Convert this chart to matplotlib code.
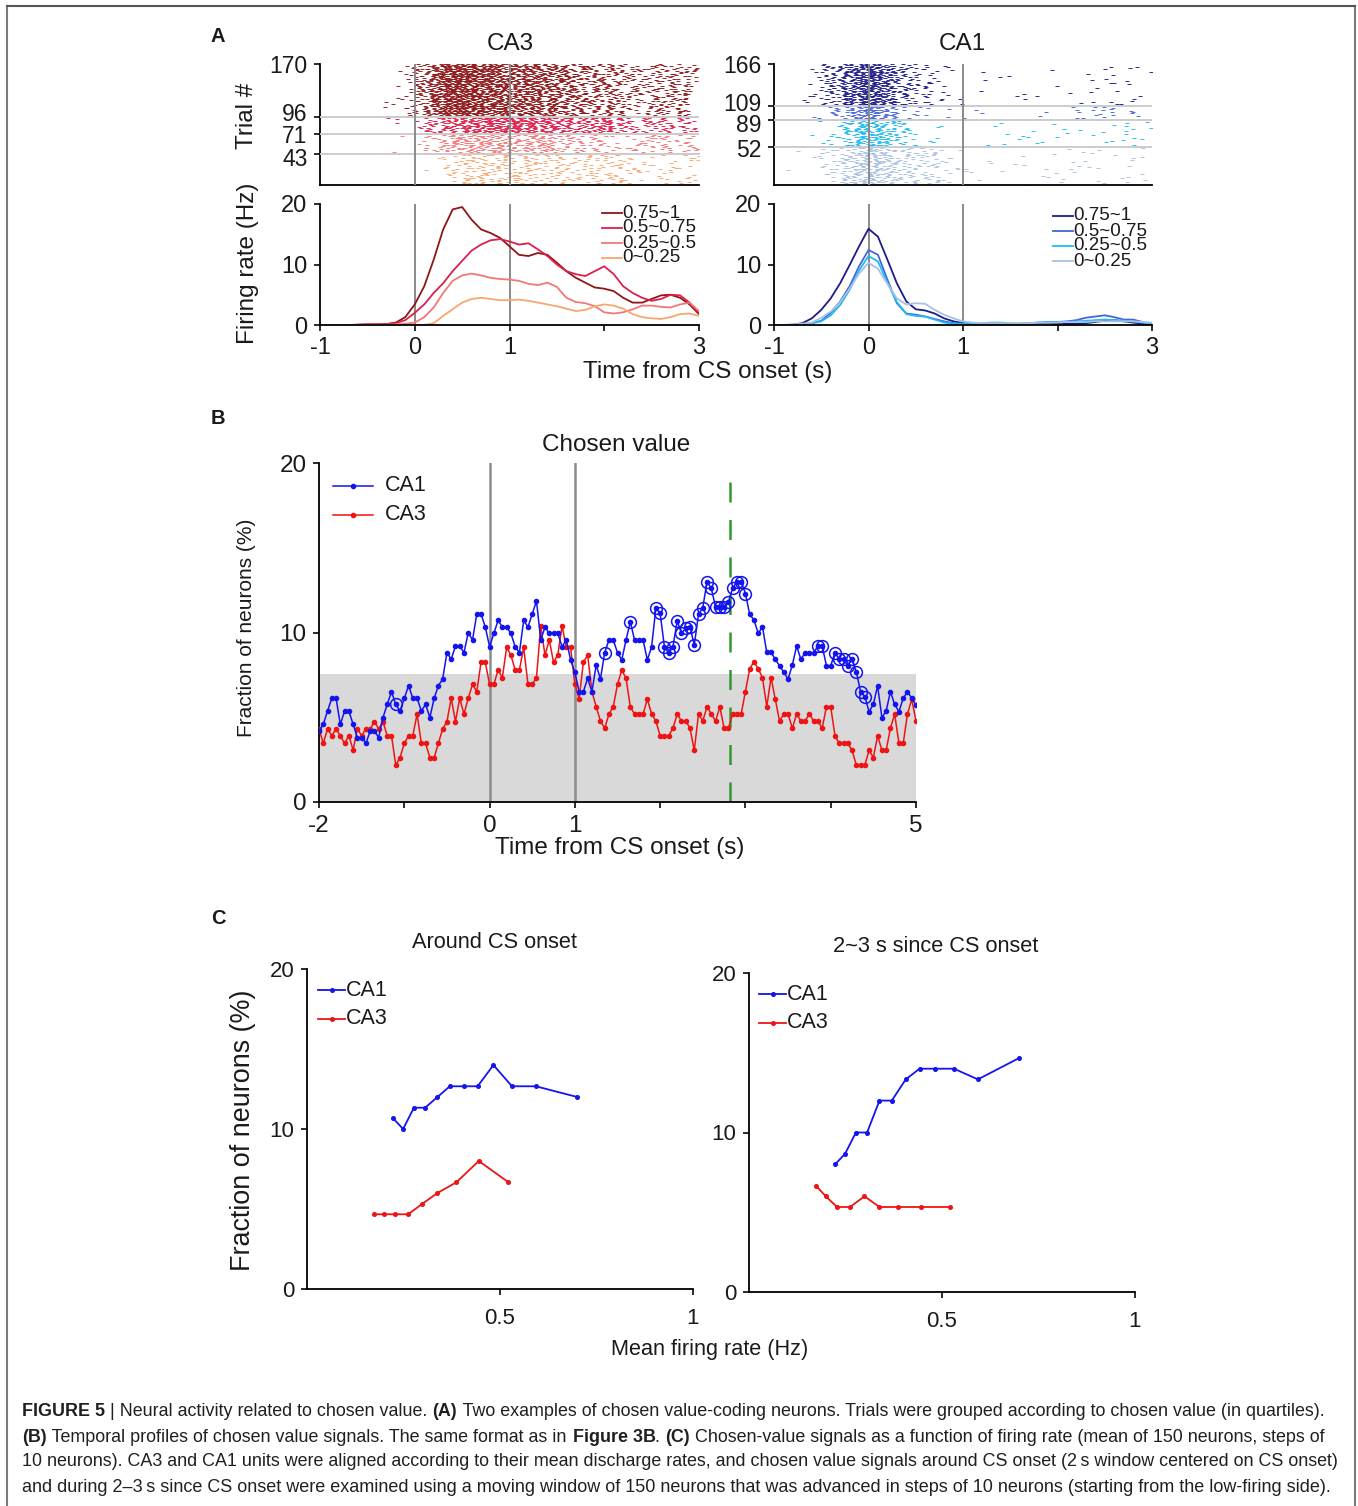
import numpy as np
import matplotlib
matplotlib.use("Agg")
import matplotlib.pyplot as plt
import matplotlib.transforms as mtrans
from matplotlib.lines import Line2D

plt.rcParams['font.family'] = ['Liberation Sans', 'DejaVu Sans']
plt.rcParams['axes.linewidth'] = 1.3
CAP_FONT = ['Liberation Sans', 'DejaVu Sans']

# ---------------------------------------------------------------- data
# Panel A : firing rates (Hz) on a 0.1 s grid from -1 to 3 s
rate_time = np.round(np.arange(-1.0, 3.0001, 0.1), 1)
quartile_labels = ["0.75~1", "0.5~0.75", "0.25~0.5", "0~0.25"]

ca3_rate_q4 = [0, 0, 0, 0, 0.05, 0.1, 0.1, 0.15, 0.4, 1.3, 3.4, 6.4, 10.8, 15.8, 19.1, 19.5,
               17.4, 15.8, 15.2, 14.4, 13.0, 11.6, 11.4, 11.9, 11.6, 10.3, 8.9, 7.8, 7.0, 6.2,
               6.0, 5.6, 4.5, 3.7, 3.7, 4.3, 4.9, 5.0, 4.5, 3.4, 1.8]
ca3_rate_q3 = [0, 0, 0, 0, 0.05, 0.1, 0.1, 0.15, 0.3, 0.8, 2.0, 3.4, 5.3, 6.9, 8.9, 10.6,
               12.3, 13.3, 14.0, 14.2, 13.8, 13.3, 13.5, 12.5, 11.4, 10.0, 8.9, 8.4, 8.1, 8.9,
               9.7, 8.4, 6.4, 5.3, 4.5, 4.0, 4.3, 5.0, 4.9, 3.7, 2.0]
ca3_rate_q2 = [0, 0, 0, 0, 0, 0, 0.05, 0.05, 0.1, 0.2, 0.4, 1.3, 2.9, 5.3, 7.3, 8.2,
               8.5, 8.2, 7.8, 7.6, 7.5, 7.3, 6.8, 6.6, 7.0, 6.3, 4.5, 3.8, 3.6, 3.1,
               2.1, 1.9, 2.1, 2.6, 3.2, 3.2, 3.0, 2.9, 3.4, 3.7, 2.3]
ca3_rate_q1 = [0, 0, 0, 0, 0, 0, 0, 0, 0, 0, 0, 0, 0.3, 1.5, 2.6, 3.7,
               4.3, 4.5, 4.3, 4.1, 4.1, 4.2, 4.0, 3.7, 3.4, 3.1, 2.7, 2.3, 2.5, 3.1,
               3.4, 3.2, 2.7, 1.8, 1.3, 1.1, 1.0, 1.3, 1.8, 1.9, 1.5]

ca1_rate_q4 = [0, 0, 0.05, 0.3, 1.1, 2.5, 4.4, 6.9, 9.9, 13.0, 15.9, 14.6, 10.8, 6.9, 3.9, 2.6,
               2.4, 1.9, 1.1, 0.6, 0.3, 0.2, 0.1, 0.1, 0.2, 0.1, 0.2, 0.2, 0.3, 0.3,
               0.2, 0.2, 0.2, 0.3, 0.5, 0.7, 0.8, 0.6, 0.4, 0.2, 0.0]
ca1_rate_q3 = [0, 0, 0, 0.1, 0.3, 0.7, 2.0, 3.9, 6.4, 9.7, 12.4, 11.6, 7.5, 3.6, 1.9, 1.7,
               1.4, 1.0, 0.6, 0.3, 0.2, 0.2, 0.2, 0.3, 0.3, 0.2, 0.2, 0.3, 0.4, 0.5,
               0.5, 0.6, 0.8, 1.2, 1.4, 1.6, 1.3, 0.9, 0.9, 0.5, 0.1]
ca1_rate_q2 = [0, 0, 0, 0.1, 0.3, 0.6, 1.6, 3.3, 5.8, 9.0, 11.4, 10.5, 7.0, 3.8, 1.8, 1.5,
               1.4, 0.9, 0.4, 0.2, 0.2, 0.2, 0.3, 0.4, 0.4, 0.3, 0.2, 0.3, 0.4, 0.4,
               0.5, 0.5, 0.6, 0.7, 0.8, 0.9, 0.8, 0.7, 0.6, 0.4, 0.2]
ca1_rate_q1 = [0, 0, 0.1, 0.2, 0.4, 1.2, 2.2, 3.8, 6.0, 8.5, 10.3, 9.3, 6.8, 4.4, 3.4, 3.6,
               3.5, 2.5, 1.7, 1.1, 0.6, 0.4, 0.3, 0.3, 0.3, 0.3, 0.3, 0.3, 0.4, 0.4,
               0.4, 0.5, 0.5, 0.5, 0.6, 0.6, 0.6, 0.6, 0.6, 0.5, 0.4]

ca3_trial_bounds = [0, 43, 71, 96, 170]     # trial-group boundaries (low -> high value)
ca1_trial_bounds = [0, 52, 89, 109, 166]
ca3_trial_ticks = [43, 71, 96, 170]
ca1_trial_ticks = [52, 89, 109, 166]

# Panel B : fraction of chosen-value neurons (%), 0.05 s steps from -2 to 5 s
b_time = np.round(np.arange(-2.0, 5.0001, 0.05), 2)
b_ca1 = [4.19, 4.58, 5.37, 6.12, 6.12, 4.58, 5.37, 5.37, 4.58, 3.80, 3.80, 3.46, 4.19, 4.19, 3.80,
         4.98, 5.76, 6.51, 5.76, 5.37, 6.12, 6.86, 6.12, 6.12, 5.37, 5.76, 4.98, 6.12, 6.86, 7.26,
         8.81, 8.42, 9.20, 9.20, 8.81, 9.99,
         9.56, 11.09, 11.09, 10.32, 9.16, 9.95, 10.72, 10.32, 10.32, 9.95, 9.16, 8.81, 10.72, 10.32,
         11.09, 11.86, 9.56, 10.32, 9.95, 9.95, 9.95, 9.16, 9.56, 8.38, 7.65, 6.51, 6.51, 7.30,
         6.51, 8.08, 7.26, 8.81, 9.56, 9.56, 8.81, 8.38,
         9.56, 10.64, 9.56, 9.56, 9.56, 8.38, 9.16, 11.43, 11.13, 9.16, 8.77, 9.16, 10.68, 9.95,
         10.25, 10.34, 9.26, 11.07, 11.47, 13.0, 12.6, 11.5, 11.5, 11.5, 11.8, 12.6, 13.0, 13.0,
         12.3, 11.07, 10.74, 9.95, 10.34, 8.83, 8.83, 8.42,
         8.04, 7.65, 7.26, 8.08, 9.20, 8.42, 8.81, 8.81, 8.81, 9.20, 9.20, 8.04, 8.04, 8.81,
         8.42, 8.42, 8.04, 8.42, 7.69, 6.51, 6.22, 5.33, 5.76, 6.86, 4.98, 5.37, 6.51, 5.76,
         5.33, 6.12, 6.51, 6.12, 5.72]
b_ca3 = [4.31, 3.46, 4.31, 3.91, 4.31, 3.91, 3.46, 3.91, 3.07, 4.31, 3.91, 4.31, 4.31, 4.74, 4.31,
         4.74, 3.91, 3.91, 2.18, 2.62, 3.46, 3.91, 3.91, 5.19, 3.46, 3.46, 2.62, 2.62, 3.46, 4.31,
         4.74, 6.12, 4.74, 6.12, 5.19, 6.12,
         6.94, 6.51, 8.24, 8.24, 6.94, 6.94, 7.79, 7.34, 9.13, 8.67, 7.79, 7.79, 9.13, 6.94,
         6.94, 7.34, 10.38, 8.67, 9.56, 8.24, 8.67, 10.38, 9.13, 9.13, 6.94, 6.10, 8.24, 8.67,
         6.51, 5.62, 4.78, 4.35, 5.19, 5.62, 6.94, 7.79,
         7.30, 5.62, 5.19, 5.19, 5.19, 6.06, 5.19, 4.78, 3.91, 3.91, 3.91, 4.35, 5.19, 4.78,
         4.78, 4.35, 3.05, 5.19, 4.78, 5.62, 5.19, 4.78, 5.62, 4.35, 4.35, 5.19, 5.19, 5.19,
         6.51, 7.85, 8.28, 7.85, 7.34, 5.62, 7.34, 6.06,
         4.78, 5.19, 5.19, 4.35, 5.19, 4.78, 4.78, 5.19, 4.78, 4.78, 4.35, 5.62, 5.62, 3.91,
         3.46, 3.46, 3.46, 3.05, 2.18, 2.18, 2.18, 3.05, 2.62, 3.91, 3.05, 3.05, 4.35, 5.19,
         3.46, 3.46, 5.19, 6.06, 4.78]
b_ca1_significant = [18, 67, 73, 79, 80, 81, 82, 83, 84, 85, 86, 87, 88, 89, 90, 91, 92, 93,
                     94, 95, 96, 97, 98, 99, 100, 117, 118, 121, 122, 123, 124, 125, 126, 127, 128]
b_chance_level = 7.55
b_marker_time = 2.82

# Panel C : fraction of neurons (%) vs mean firing rate (Hz) of 150-neuron windows
c_rate_ca1 = [0.223, 0.249, 0.277, 0.306, 0.338, 0.370, 0.406, 0.442, 0.483, 0.531, 0.593, 0.700]
c_onset_ca1 = [10.67, 10.0, 11.33, 11.33, 12.0, 12.67, 12.67, 12.67, 14.0, 12.67, 12.67, 12.0]
c_late_ca1 = [8.0, 8.67, 10.0, 10.0, 12.0, 12.0, 13.33, 14.0, 14.0, 14.0, 13.33, 14.67]
c_rate_ca3 = [0.173, 0.199, 0.228, 0.262, 0.299, 0.338, 0.387, 0.445, 0.522]
c_onset_ca3 = [4.67, 4.67, 4.67, 4.67, 5.33, 6.0, 6.67, 8.0, 6.67]
c_late_ca3 = [6.67, 6.0, 5.33, 5.33, 6.0, 5.33, 5.33, 5.33, 5.33]

# ---------------------------------------------------------------- styling
W, H = 1358, 1506
fig = plt.figure(figsize=(W / 100, H / 100), dpi=100)

CA3_COLORS = ['#8e1618', '#dc1f4b', '#f27878', '#f9a66e']
CA1_COLORS = ['#1c1c8a', '#4565dc', '#1fbcef', '#a9c0e2']
BLUE = '#1414ee'
RED = '#ee1414'
TXT = '#1a1a1a'


def ax_px(l, t, r, b):
    return fig.add_axes([l / W, 1 - b / H, (r - l) / W, (b - t) / H])


def fxy(x, y):
    return x / W, 1 - y / H


def style(ax, fs=17, pad=5):
    ax.spines['top'].set_visible(False)
    ax.spines['right'].set_visible(False)
    ax.tick_params(labelsize=fs, length=4, width=1.3, pad=pad, colors=TXT)


def frac_hash(a, b):
    v = np.sin(a * 12.9898 + b * 78.233 + 0.5) * 43758.5453
    return v - np.floor(v)


def spike_train(times, rate, trial):
    """Spike times that follow the cumulative firing rate of the group."""
    t = np.asarray(times, float)
    r = np.asarray(rate, float)
    cum = np.concatenate([[0.0], np.cumsum(0.5 * (r[1:] + r[:-1]) * np.diff(t))])
    cum = cum + 1e-9 * np.arange(len(cum))
    out = []
    n = 0
    while True:
        u = n + frac_hash(trial, n)
        if u >= cum[-1]:
            break
        out.append(np.interp(u, cum, t))
        n += 1
    return out


def raster(ax, rates, bounds, colors):
    # rates/colors given high -> low value; bounds low -> high trials
    for g in range(4):
        lo, hi = bounds[g], bounds[g + 1]
        rate = rates[3 - g]
        col = colors[3 - g]
        xs, ys = [], []
        for k in range(lo, hi):
            st = spike_train(rate_time, rate, k)
            xs += st
            ys += [k + 0.5] * len(st)
        ax.plot(xs, ys, ls='none', marker='_', ms=3.0, mew=0.65, color=col, zorder=2)


def nudge(labels, offsets):
    for lab, dy in zip(labels, offsets):
        lab.set_transform(lab.get_transform() + mtrans.ScaledTranslation(0, dy / 100, fig.dpi_scale_trans))


# ---------------------------------------------------------------- panel A
panelA = [
    (320, 699, [ca3_rate_q4, ca3_rate_q3, ca3_rate_q2, ca3_rate_q1], CA3_COLORS,
     ca3_trial_bounds, ca3_trial_ticks, 'CA3', 602, 510, [-3, 0.5, 5, 0]),
    (774, 1152, [ca1_rate_q4, ca1_rate_q3, ca1_rate_q2, ca1_rate_q1], CA1_COLORS,
     ca1_trial_bounds, ca1_trial_ticks, 'CA1', 1053, 962, [-1, -3, 4, 0]),
]
for (l, r, rates, cols, bounds, ticks, name, legx, titx, offs) in panelA:
    axr = ax_px(l, 64, r, 185)
    style(axr, fs=16.5)
    axr.set_xlim(-1, 3)
    axr.set_ylim(0, bounds[-1])
    axr.set_xticks([])
    axr.set_yticks(ticks)
    nudge(axr.get_yticklabels(), offs)
    for b in bounds[1:-1]:
        axr.axhline(b, color='#cccccc', lw=1.4, zorder=3)
    for v in (0, 1):
        axr.axvline(v, color='#8a8a8a', lw=1.4, zorder=3)
    raster(axr, rates, bounds, cols)
    fig.text(*fxy(titx, 44), name, fontsize=17.5, ha='center', va='center', color=TXT)

    axf = ax_px(l, 204, r, 325)
    style(axf)
    axf.set_xlim(-1, 3)
    axf.set_ylim(0, 20)
    axf.set_yticks([0, 10, 20])
    axf.set_xticks([-1, 0, 1, 2, 3])
    axf.set_xticklabels(['-1', '0', '1', '', '3'])
    for v in (0, 1):
        axf.axvline(v, color='#8a8a8a', lw=1.4, zorder=1)
    for q in range(4):
        axf.plot(rate_time, rates[q], color=cols[q], lw=1.3, zorder=2,
                 solid_joinstyle='round')
    # legend
    for q in range(4):
        yy = 213 + 15 * q if name == 'CA3' else 216 + 15 * q
        fig.add_artist(Line2D([legx / W, (legx + 20) / W], [1 - yy / H] * 2, color=cols[q], lw=1.3))
        fig.text((legx + 20) / W, 1 - yy / H, quartile_labels[q], fontsize=13.5, va='center',
                 ha='left', color=TXT)

fig.text(*fxy(708, 372), 'Time from CS onset (s)', fontsize=17.5, ha='center', va='center', color=TXT)
fig.text(*fxy(247, 116), 'Trial #', fontsize=17.5, ha='center', va='center', rotation=90, color=TXT)
fig.text(*fxy(248, 263), 'Firing rate (Hz)', fontsize=17.5, ha='center', va='center', rotation=90, color=TXT)
fig.text(*fxy(218, 36), 'A', fontsize=14.5, fontweight='bold', ha='center', va='center', color=TXT)

# ---------------------------------------------------------------- panel B
axb = ax_px(319, 463, 916, 802)
style(axb, fs=17.5, pad=5)
axb.set_xlim(-2, 5)
axb.set_ylim(0, 20)
axb.axhspan(0, b_chance_level, color='#d9d9d9', lw=0, zorder=0)
for v in (0, 1):
    axb.axvline(v, color='#8c8c8c', lw=1.8, zorder=1)
axb.plot([b_marker_time, b_marker_time], [0, 19], color='#2f9a2f', lw=1.8,
         ls=(0, (8, 7)), zorder=1)
axb.plot(b_time, b_ca3, color=RED, lw=1.1, marker='o', ms=3.0, zorder=3)
axb.plot(b_time, b_ca1, color=BLUE, lw=1.1, marker='o', ms=3.0, zorder=4)
sig_t = [b_time[i] for i in b_ca1_significant]
sig_v = [b_ca1[i] for i in b_ca1_significant]
axb.plot(sig_t, sig_v, ls='none', marker='o', ms=8.5, mfc='none', mec=BLUE, mew=1.1, zorder=5)
axb.set_xticks(range(-2, 6))
axb.set_xticklabels(['-2', '', '0', '1', '', '', '', '5'])
axb.set_yticks([0, 10, 20])
fig.text(*fxy(616, 445), 'Chosen value', fontsize=17.5, ha='center', va='center', color=TXT)
for i, (lab, col) in enumerate([('CA1', BLUE), ('CA3', RED)]):
    yy = 486 + 29 * i
    fig.add_artist(Line2D([333 / W, 373 / W], [1 - yy / H] * 2, color=col, lw=1.1))
    fig.add_artist(Line2D([353 / W], [1 - yy / H], color=col, marker='o', ms=3.0))
    fig.text(385 / W, 1 - yy / H, lab, fontsize=15.5, va='center', ha='left', color=TXT)
fig.text(*fxy(620, 848), 'Time from CS onset (s)', fontsize=17.5, ha='center', va='center', color=TXT)
fig.text(*fxy(247, 628), 'Fraction of neurons (%)', fontsize=15, ha='center', va='center',
         rotation=90, color=TXT)
fig.text(*fxy(218, 418), 'B', fontsize=14.5, fontweight='bold', ha='center', va='center', color=TXT)

# ---------------------------------------------------------------- panel C
panelC = [
    (307, 969, 693, 1289, c_onset_ca1, c_onset_ca3, 'Around CS onset', (494, 942), (318, 990)),
    (749, 973, 1135, 1292, c_late_ca1, c_late_ca3, '2~3 s since CS onset', (936, 947), (759, 994)),
]
for (l, t, r, b, v1, v3, title, tpos, lpos) in panelC:
    axc = ax_px(l, t, r, b)
    style(axc, fs=16, pad=5)
    axc.tick_params(axis='x', pad=10)
    axc.set_xlim(0, 1)
    axc.set_ylim(0, 20)
    axc.set_xticks([0.5, 1])
    axc.set_xticklabels(['0.5', '1'])
    axc.set_yticks([0, 10, 20])
    axc.plot(c_rate_ca1, v1, color=BLUE, lw=1.3, marker='o', ms=2.6)
    axc.plot(c_rate_ca3, v3, color=RED, lw=1.3, marker='o', ms=2.6)
    fig.text(*fxy(*tpos), title, fontsize=15.7, ha='center', va='center', color=TXT)
    for i, (lab, col) in enumerate([('CA1', BLUE), ('CA3', RED)]):
        yy = lpos[1] + 29 * i
        fig.add_artist(Line2D([lpos[0] / W, (lpos[0] + 27) / W], [1 - yy / H] * 2, color=col, lw=1.3))
        fig.add_artist(Line2D([(lpos[0] + 13.5) / W], [1 - yy / H], color=col, marker='o', ms=2.6))
        fig.text((lpos[0] + 28) / W, 1 - yy / H, lab, fontsize=15.5, va='center', ha='left', color=TXT)

fig.text(*fxy(710, 1350), 'Mean firing rate (Hz)', fontsize=15.6, ha='center', va='center', color=TXT)
fig.text(*fxy(243, 1130), 'Fraction of neurons (%)', fontsize=19.4, ha='center', va='center',
         rotation=90, color=TXT)
fig.text(*fxy(218, 918), 'C', fontsize=14.5, fontweight='bold', ha='center', va='center', color=TXT)

# ---------------------------------------------------------------- frame
fig.add_artist(Line2D([7 / W, 7 / W], [1 - 6 / H, 0], color='#7a7a7a', lw=1.5))
fig.add_artist(Line2D([1355 / W, 1355 / W], [1 - 6 / H, 0], color='#7a7a7a', lw=1.5))
fig.add_artist(Line2D([7 / W, 1355 / W], [1 - 6 / H, 1 - 6 / H], color='#555555', lw=1.5))

# ---------------------------------------------------------------- caption
caption = [
    [("FIGURE 5", True), (" | Neural activity related to chosen value. ", False), ("(A)", True),
     (" Two examples of chosen value-coding neurons. Trials were grouped according to chosen value (in quartiles).", False)],
    [("(B)", True), (" Temporal profiles of chosen value signals. The same format as in ", False),
     ("Figure 3B", True), (". ", False), ("(C)", True),
     (" Chosen-value signals as a function of firing rate (mean of 150 neurons, steps of", False)],
    [("10 neurons). CA3 and CA1 units were aligned according to their mean discharge rates, and chosen value signals around CS onset (2\u2009s window centered on CS onset)", False)],
    [("and during 2\u20133\u2009s since CS onset were examined using a moving window of 150 neurons that was advanced in steps of 10 neurons (starting from the low-firing side).", False)],
]
cap_y = [1411, 1437, 1462, 1487]
cap_right = [1327, 1327, 1341, 1334]
cap_left = 22

renderer = fig.canvas.get_renderer()


def seg_width(s, bold, fs):
    kw = dict(fontsize=fs, fontweight='bold' if bold else 'normal', family=CAP_FONT)
    t1 = fig.text(0, 0, '|' + s + '|', **kw)
    t2 = fig.text(0, 0, '||', **kw)
    w = t1.get_window_extent(renderer).width - t2.get_window_extent(renderer).width
    t1.remove()
    t2.remove()
    return w


base_fs = 12.5
for line, y, xr in zip(caption, cap_y, cap_right):
    widths = [seg_width(s, b, base_fs) for s, b in line]
    fs = base_fs * (xr - cap_left) / sum(widths)
    x = cap_left
    for (s, b), w in zip(line, widths):
        fig.text(x / W, 1 - y / H, s, fontsize=fs, fontweight='bold' if b else 'normal',
                 family=CAP_FONT, va='center', ha='left', color='#231f20')
        x += w * fs / base_fs

fig.savefig('out.png', dpi=100)
